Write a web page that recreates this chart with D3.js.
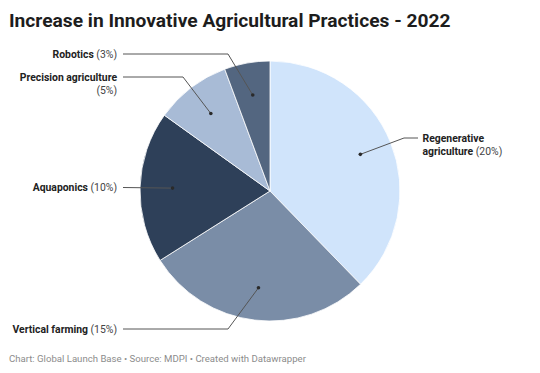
<!DOCTYPE html>
<html>
<head>
<meta charset="utf-8">
<script src="https://cdn.jsdelivr.net/npm/d3@7"></script>
<style>
  body { margin: 0; background: #fff; font-family: Roboto, "Noto Sans", sans-serif; }
  .title { font-size: 19.2px; font-weight: 700; fill: #1d1d1d; }
  .label { font-size: 10.4px; fill: #222; }
  .label .name { font-weight: 700; }
  .label .pct { fill: #444; }
  .footer { font-size: 9.6px; fill: #8c8c8c; }
</style>
</head>
<body>
<svg id="chart" width="540" height="373"></svg>
<script>
// chart data
var categories = ["Regenerative agriculture", "Vertical farming", "Aquaponics", "Precision agriculture", "Robotics"];
var values = [20, 15, 10, 5, 3];
var colors = ["#d0e4fb", "#7a8da7", "#2e4059", "#a8bbd6", "#536680"];

// label layout: text lines, anchor side, label y and elbow x of the leader line
var labelLines = {
    "Regenerative agriculture": [["Regenerative", ""], ["agriculture", " (20%)"]],
    "Vertical farming": [["Vertical farming", " (15%)"]],
    "Aquaponics": [["Aquaponics", " (10%)"]],
    "Precision agriculture": [["Precision agriculture", ""], ["", "(5%)"]],
    "Robotics": [["Robotics", " (3%)"]]
};
var labelLayout = {
    "Regenerative agriculture": {side: "right", y: 138, elbow: 404},
    "Vertical farming": {side: "left", y: 329, elbow: 228},
    "Aquaponics": {side: "left", y: 187.5, elbow: null},
    "Precision agriculture": {side: "left", y: 77, elbow: 183},
    "Robotics": {side: "left", y: 54, elbow: 228}
};

var svg = d3.select("#chart");
var cx = 270, cy = 191, radius = 130;
var dotRadius = radius * 0.75;
var leftTextX = 117, leftLineX = 123;
var rightLineX = 418, rightTextX = 422.5;

svg.append("text")
    .attr("class", "title")
    .attr("x", 9)
    .attr("y", 26.5)
    .text("Increase in Innovative Agricultural Practices - 2022");

var data = categories.map(function(c, i) { return {name: c, value: values[i], color: colors[i]}; });

var pie = d3.pie()
    .sort(null)
    .value(function(d) { return d.value; });

var arc = d3.arc().innerRadius(0).outerRadius(radius);
var dotArc = d3.arc().innerRadius(dotRadius).outerRadius(dotRadius);

var g = svg.append("g").attr("transform", "translate(" + cx + "," + cy + ")");

var arcs = pie(data);

g.selectAll(".slice")
    .data(arcs)
    .enter().append("path")
    .attr("class", "slice")
    .attr("d", arc)
    .attr("fill", function(d) { return d.data.color; })
    .attr("stroke", "#fff")
    .attr("stroke-width", 0.8);

// leader lines
var leaders = svg.append("g");
arcs.forEach(function(d) {
    var lay = labelLayout[d.data.name];
    var c = dotArc.centroid(d);
    var dx = cx + c[0], dy = cy + c[1];
    var pts = [[dx, dy]];
    if (lay.elbow !== null) pts.push([lay.elbow, lay.y]);
    pts.push([lay.side === "left" ? leftLineX : rightLineX, lay.y]);
    leaders.append("path")
        .attr("d", d3.line()(pts))
        .attr("fill", "none")
        .attr("stroke", "#555")
        .attr("stroke-width", 1);
    leaders.append("circle")
        .attr("cx", dx)
        .attr("cy", dy)
        .attr("r", 1.8)
        .attr("fill", "#2a2a2a");
});

// labels
var lineHeight = 12.8;
arcs.forEach(function(d) {
    var lay = labelLayout[d.data.name];
    var lines = labelLines[d.data.name];
    var t = svg.append("text")
        .attr("class", "label")
        .attr("text-anchor", lay.side === "left" ? "end" : "start")
        .attr("x", lay.side === "left" ? leftTextX : rightTextX)
        .attr("y", lay.y + 3.8);
    lines.forEach(function(l, i) {
        var x = lay.side === "left" ? leftTextX : rightTextX;
        if (l[0]) {
            t.append("tspan").attr("class", "name")
                .attr("x", x).attr("dy", i === 0 ? 0 : lineHeight)
                .text(l[0]);
            if (l[1]) t.append("tspan").attr("class", "pct").text(l[1]);
        } else {
            t.append("tspan").attr("class", "pct")
                .attr("x", x).attr("dy", i === 0 ? 0 : lineHeight)
                .text(l[1]);
        }
    });
});

svg.append("text")
    .attr("class", "footer")
    .attr("x", 9)
    .attr("y", 361.5)
    .text("Chart: Global Launch Base \u2022 Source: MDPI \u2022 Created with Datawrapper");
</script>
</body>
</html>
